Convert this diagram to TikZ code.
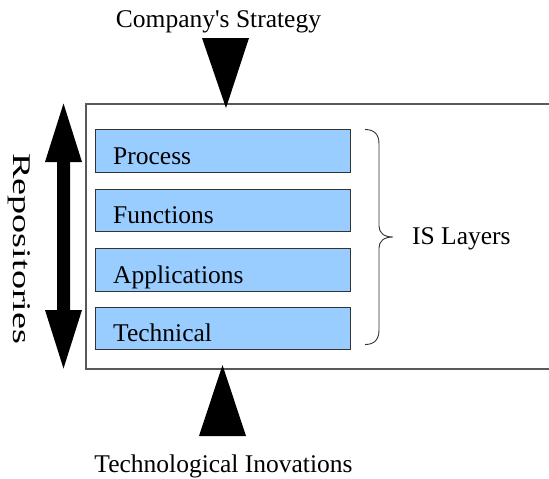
\documentclass[tikz,border=0pt]{standalone}
\usepackage{fontspec}
\newfontfamily\serfont{Liberation Serif}
\begin{document}
\begin{tikzpicture}[x=1pt,y=-1pt,
  lbl/.style={inner sep=0pt,font=\serfont\fontsize{25.5}{30}\selectfont},
  layer/.style={draw=black!80,fill=layerblue,line width=1pt},
  blk/.style={fill=black,draw=none}]
\definecolor{layerblue}{HTML}{99CCFF}
\useasboundingbox (0,0) rectangle (549,479);
% outer frame (open to the right)
\draw[line width=1.3pt,black!65] (549.5,104) -- (86,104) -- (86,369) -- (549.5,369);
% layers
\foreach \n/\t/\y in {proc/Process/129.5, func/Functions/189, appl/Applications/248.5, tech/Technical/307}{
  \draw[layer] (95,\y) rectangle (350.5,\y+42.5);
  \node[lbl,anchor=base west] (\n) at (113,\y+34.5) {\t};
}
% brace
\draw[line width=0.9pt,black!80] (365,129.5) .. controls (374,129.5) and (379,134) .. (379,144)
  -- (379,226) .. controls (379,233) and (384,237) .. (393,237)
  .. controls (384,237) and (379,241) .. (379,248)
  -- (379,330) .. controls (379,340) and (374,344.5) .. (365,344.5);
\node[lbl,anchor=base west] (isl) at (412,244) {IS Layers};
% top arrow
\node[lbl,anchor=base] (strat) at (218.5,27.5) {Company\textquotesingle s Strategy};
\fill[blk] (202,38) -- (249,38) -- (226,108) -- cycle;
% bottom arrow
\node[lbl,anchor=base] (tech2) at (223.5,472) {Technological Inovations};
\fill[blk] (199,436) -- (246,436) -- (222.5,365) -- cycle;
% double arrow
\fill[blk] (63.5,103.5) -- (82,162) -- (70,162) -- (70,310) -- (82,310) -- (63.5,368.5)
  -- (45,310) -- (57,310) -- (57,162) -- (45,162) -- cycle;
% Repositories
\node[lbl,rotate=-90,anchor=base west] (repo) at (13,153) {\scalebox{1.5}[1]{Repositories}};
\end{tikzpicture}
\end{document}
